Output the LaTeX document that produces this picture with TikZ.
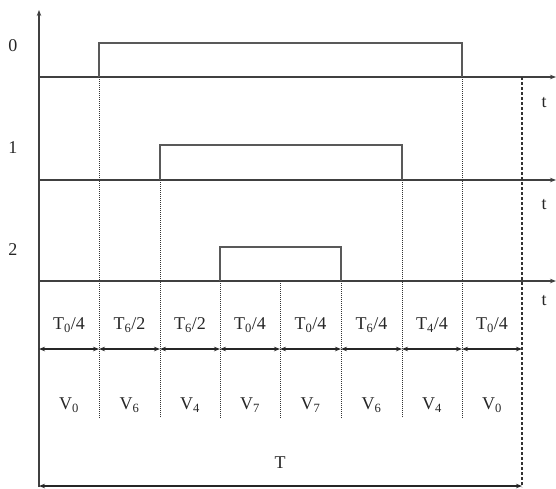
\documentclass[tikz,border=0pt]{standalone}
\usepackage{fontspec}
\setmainfont{Liberation Serif}
\usetikzlibrary{arrows.meta}
\begin{document}
\begin{tikzpicture}[x=1pt,y=-1pt,
  axisline/.style={line width=1.8pt,draw=black!75},
  pulseline/.style={line width=1.4pt,draw=black!65},
  guide/.style={line width=1pt,draw=black!80,dash pattern=on 1pt off 1pt},
  periodline/.style={line width=1.2pt,draw=black!80,dash pattern=on 3pt off 2pt},
  span/.style={line width=1.3pt,draw=black!85,{Stealth[length=6pt,width=4.5pt]}-{Stealth[length=6pt,width=4.5pt]}},
  lbl/.style={font=\fontsize{18}{20}\selectfont,text=black!85,inner sep=0pt}]
\useasboundingbox (0,0) rectangle (556,488);

% vertical axis
\coordinate (O) at (39,487);
\coordinate (Otop) at (39,10);
\draw[axisline,-{Stealth[length=6pt,width=4.5pt]}] (O) -- (Otop);

% three switching channels: baseline, high level, rising and falling edge
\foreach \n/\yb/\yh/\xa/\xb/\yt in {0/77/43/99/462/103, 1/180/145/160/402/205, 2/281/247/220/341/301}{
  \coordinate (b\n) at (39,\yb);
  \coordinate (e\n) at (556,\yb);
  \draw[axisline,-{Stealth[length=6pt,width=4.5pt]}] (b\n) -- (e\n);
  \coordinate (ra\n) at (\xa,\yb);
  \coordinate (rb\n) at (\xa,\yh);
  \coordinate (fa\n) at (\xb,\yh);
  \coordinate (fb\n) at (\xb,\yb);
  \draw[pulseline] (ra\n) -- (rb\n) -- (fa\n) -- (fb\n);
  \node[lbl] (lv\n) at (13,\yh+3) {\n};
  \node[lbl] (t\n) at (544,\yt) {t};
}

% dotted segment boundaries
\foreach \i/\x/\yt in {1/99/77, 2/160/180, 3/220/281, 4/280/281, 5/341/281, 6/402/180, 7/462/77}{
  \coordinate (dt\i) at (\x,\yt);
  \coordinate (db\i) at (\x,418);
  \draw[guide] (dt\i) -- (db\i);
}

% end of the period
\coordinate (Ptop) at (522,77);
\coordinate (Pbot) at (522,487);
\draw[periodline] (Ptop) -- (Pbot);

% interval arrows, durations and applied vectors
\foreach \i/\x in {0/39, 1/99, 2/160, 3/220, 4/280, 5/341, 6/402, 7/462, 8/522}{
  \coordinate (s\i) at (\x,349);
}
\foreach \i/\j/\dur/\vec in {0/1/{T\textsubscript{0}/4}/{V\textsubscript{0}},
                          1/2/{T\textsubscript{6}/2}/{V\textsubscript{6}},
                          2/3/{T\textsubscript{6}/2}/{V\textsubscript{4}},
                          3/4/{T\textsubscript{0}/4}/{V\textsubscript{7}},
                          4/5/{T\textsubscript{0}/4}/{V\textsubscript{7}},
                          5/6/{T\textsubscript{6}/4}/{V\textsubscript{6}},
                          6/7/{T\textsubscript{4}/4}/{V\textsubscript{4}},
                          7/8/{T\textsubscript{0}/4}/{V\textsubscript{0}}}{
  \draw[span] (s\i) -- (s\j);
  \path (s\i) -- (s\j) node[lbl,pos=0.5,yshift=24pt] (dur\i) {\dur}
                       node[lbl,pos=0.5,yshift=-56pt] (vec\i) {\vec};
}

% whole period
\coordinate (Tl) at (39,486);
\coordinate (Tr) at (522,486);
\draw[span] (Tl) -- (Tr);
\node[lbl] (Tlab) at (280,463) {T};
\end{tikzpicture}
\end{document}
